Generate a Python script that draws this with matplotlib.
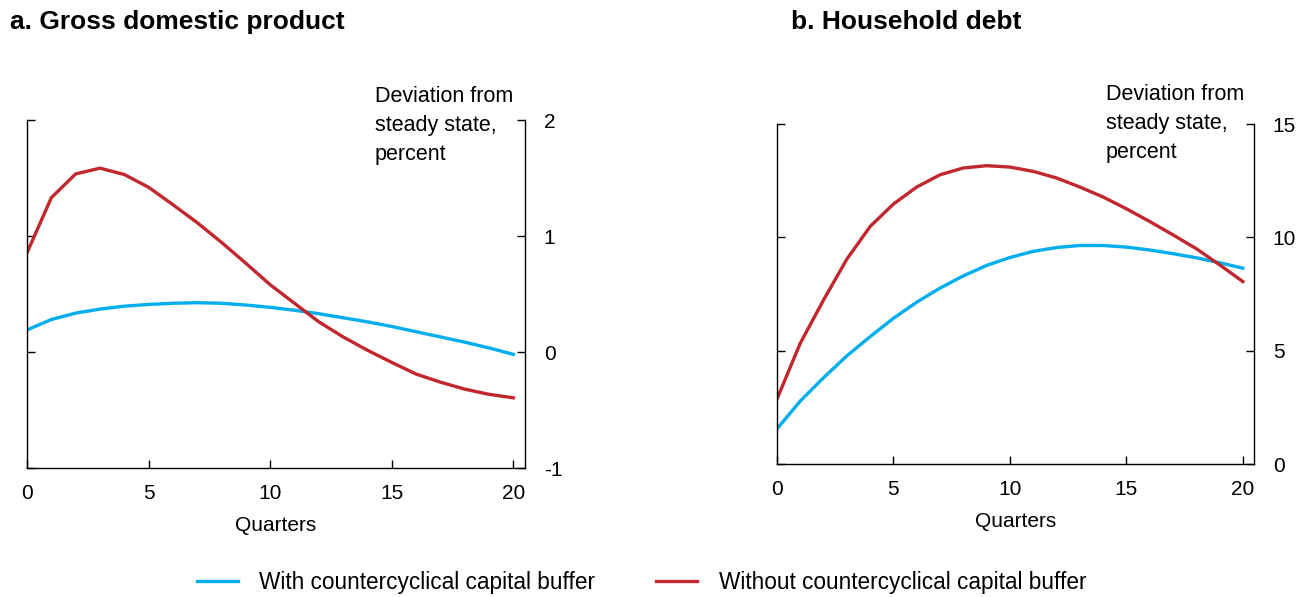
import numpy as np
import matplotlib
matplotlib.use("Agg")
import matplotlib.pyplot as plt

plt.rcParams['font.family'] = ['Liberation Sans', 'DejaVu Sans']
plt.rcParams['axes.unicode_minus'] = False

quarters = list(range(21))

# panel a: GDP, deviation from steady state (percent)
gdp_with = [0.19, 0.28, 0.335, 0.37, 0.395, 0.41, 0.42, 0.425, 0.42, 0.405, 0.385,
            0.36, 0.33, 0.295, 0.26, 0.22, 0.175, 0.13, 0.085, 0.035, -0.02]
gdp_without = [0.855, 1.33, 1.535, 1.585, 1.53, 1.42, 1.27, 1.115, 0.945, 0.765, 0.58,
               0.42, 0.26, 0.13, 0.015, -0.09, -0.19, -0.26, -0.32, -0.365, -0.395]

# panel b: household debt
debt_with = [1.55, 2.78, 3.81, 4.77, 5.62, 6.43, 7.14, 7.76, 8.3, 8.76, 9.11,
             9.38, 9.55, 9.64, 9.64, 9.57, 9.44, 9.28, 9.1, 8.88, 8.64]
debt_without = [2.87, 5.33, 7.24, 9.04, 10.48, 11.47, 12.22, 12.76, 13.06, 13.16, 13.1,
                12.91, 12.62, 12.22, 11.78, 11.26, 10.7, 10.11, 9.5, 8.79, 8.05]

xticks = [0, 5, 10, 15, 20]
gdp_yticks = [-1, 0, 1, 2]
debt_yticks = [0, 5, 10, 15]

blue = '#00AEEF'
red = '#C1272D'
lw = 2.4

fig = plt.figure(figsize=(13.12, 5.97), dpi=100)
W, H = 1312, 597

def make_ax(x0, x1, ytop, ybot):
    return fig.add_axes([x0 / W, 1 - ybot / H, (x1 - x0) / W, (ybot - ytop) / H])

ax1 = make_ax(27, 525, 120, 468)
ax2 = make_ax(777, 1254, 124, 464)

panels = [
    (ax1, gdp_with, gdp_without, gdp_yticks, (-1, 2)),
    (ax2, debt_with, debt_without, debt_yticks, (0, 15)),
]

for ax, s_with, s_without, yt, ylim in panels:
    l1, = ax.plot(quarters, s_with, color=blue, lw=lw)
    l2, = ax.plot(quarters, s_without, color=red, lw=lw)
    ax.set_xlim(0, 20.48)
    ax.set_ylim(*ylim)
    ax.set_xticks(xticks)
    ax.set_yticks(yt)
    ax.spines['top'].set_visible(False)
    for s in ['left', 'right', 'bottom']:
        ax.spines[s].set_linewidth(1.0)
    ax.tick_params(axis='y', direction='in', left=True, right=True,
                   labelleft=False, labelright=True, length=6, width=1.0,
                   pad=13.5, labelsize=15)
    ax.tick_params(axis='x', direction='in', length=6, width=1.0, pad=11.5,
                   labelsize=15)
    for lab in ax.get_yticklabels():
        lab.set_horizontalalignment('left')

ax1.text(0.5, -0.164, 'Quarters', transform=ax1.transAxes, ha='center',
         va='center', fontsize=15)
ax2.text(0.5, -0.17, 'Quarters', transform=ax2.transAxes, ha='center',
         va='center', fontsize=15)

unit = 'Deviation from\nsteady state,\npercent'
fig.text(375 / W, 1 - 86 / H, unit, ha='left', va='top', fontsize=15.5, linespacing=1.5)
fig.text(1106 / W, 1 - 84 / H, unit, ha='left', va='top', fontsize=15.5, linespacing=1.5)

fig.text(10 / W, 1 - 22 / H, 'a. Gross domestic product', ha='left', va='center',
         fontsize=19, fontweight='bold')
fig.text(791 / W, 1 - 22 / H, 'b. Household debt', ha='left', va='center',
         fontsize=19, fontweight='bold')

fig.legend([l1, l2], ['With countercyclical capital buffer',
                      'Without countercyclical capital buffer'],
           loc='center', bbox_to_anchor=(0.489, 0.025), ncol=2, frameon=False,
           fontsize=16.3, handlelength=1.8, columnspacing=2.7, handletextpad=0.95)

fig.savefig('out.png', dpi=100)
